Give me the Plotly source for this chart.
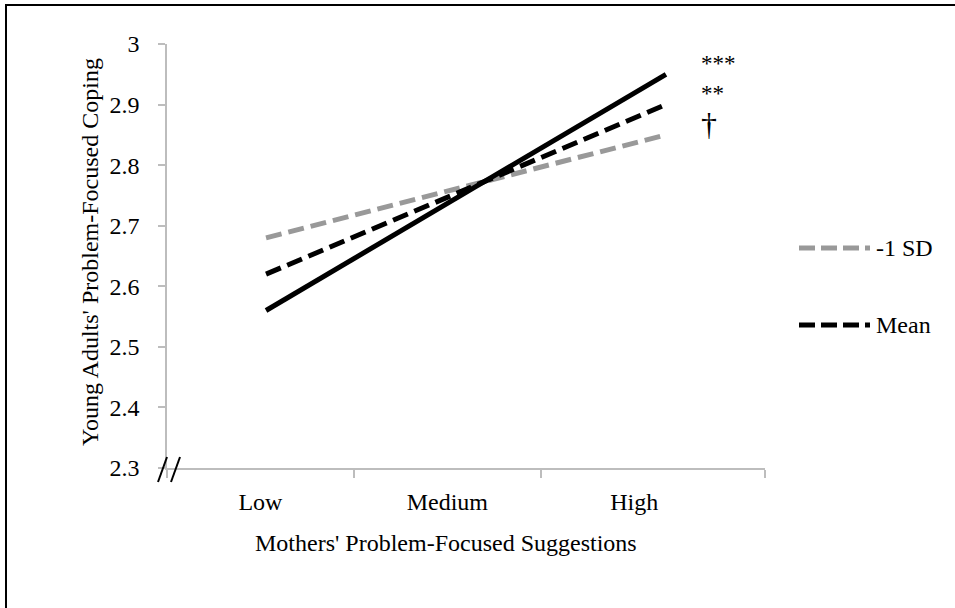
import plotly.graph_objects as go

# ---------------- data ----------------
categories = ["Low", "Medium", "High"]
category_pos = [0.5, 1.5, 2.5]
category_ticks = [0, 1, 2, 3.199]
line_x = [0.53, 2.67]                 # Low and High ends of each simple slope
series_names = ["-1 SD", "Mean", "+1 SD"]
minus_sd = [2.68, 2.85]
mean_vals = [2.62, 2.90]
plus_sd = [2.56, 2.95]
sig_labels = ["†", "**", "***"]       # for -1 SD, Mean, +1 SD
y_ticks = [2.3, 2.4, 2.5, 2.6, 2.7, 2.8, 2.9, 3.0]
y_ticklabels = ["2.3", "2.4", "2.5", "2.6", "2.7", "2.8", "2.9", "3"]
x_title = "Mothers' Problem-Focused Suggestions"
y_title = "Young Adults' Problem-Focused Coping"

# ---------------- layout constants ----------------
W, H = 955, 608
L, R, T, B = 167, 190, 44, 140
PW, PH = W - L - R, H - T - B
FONT = "Liberation Serif, Times New Roman, serif"
AXIS_GREY = "#bdbdbd"
GREY = "#999999"


def px(x):
    return (x - L) / PW


def py(y):
    return (H - B - y) / PH


styles = [
    dict(color=GREY, width=5, dash="16px,7px"),
    dict(color="black", width=5, dash="16px,7px"),
    dict(color="black", width=5, dash="solid"),
]
values = [minus_sd, mean_vals, plus_sd]

fig = go.Figure()
for name, vals, st in zip(series_names, values, styles):
    fig.add_trace(go.Scatter(x=line_x, y=vals, mode="lines", name=name,
                             line=st, showlegend=False, hoverinfo="skip"))

annotations = []
# significance markers next to line ends
for vals, lab in zip(values, sig_labels):
    annotations.append(dict(x=2.845, y=vals[-1] + 0.018, xref="x", yref="y",
                            text=lab, showarrow=False, xanchor="left",
                            yanchor="middle",
                            font=dict(family=FONT, size=32 if lab == "†" else 23,
                                      color="black")))

# axis titles
annotations.append(dict(x=px(446), y=py(543), xref="paper", yref="paper",
                        text=x_title, showarrow=False, xanchor="center",
                        yanchor="middle",
                        font=dict(family=FONT, size=24, color="black")))
annotations.append(dict(x=px(90), y=py(252), xref="paper", yref="paper",
                        text=y_title, showarrow=False, textangle=-90,
                        xanchor="center", yanchor="middle",
                        font=dict(family=FONT, size=24, color="black")))

shapes = []
# legend (only -1 SD and Mean visible in the original)
legend_rows = [248, 325]
for (name, st), yrow in zip(list(zip(series_names, styles))[:2], legend_rows):
    shapes.append(dict(type="line", xref="paper", yref="paper",
                       x0=px(799), x1=px(870), y0=py(yrow), y1=py(yrow),
                       line=dict(color=st["color"], width=5, dash="16px,6px")))
    annotations.append(dict(x=px(874), y=py(yrow), xref="paper", yref="paper",
                            text=name, showarrow=False, xanchor="left",
                            yanchor="middle",
                            font=dict(family=FONT, size=24, color="black")))

# axis break marks
for x0 in (158, 171):
    shapes.append(dict(type="line", xref="paper", yref="paper",
                       x0=px(x0), y0=py(482), x1=px(x0 + 9), y1=py(457),
                       line=dict(color="black", width=2)))

# outer frame (right and bottom edges fall outside the picture)
shapes.append(dict(type="rect", xref="paper", yref="paper",
                   x0=px(6), y0=py(H + 20), x1=px(W + 20), y1=py(5),
                   line=dict(color="black", width=2), fillcolor="rgba(0,0,0,0)",
                   layer="above"))

fig.update_layout(
    width=W, height=H, autosize=False,
    margin=dict(l=L, r=R, t=T, b=B, pad=0),
    paper_bgcolor="white", plot_bgcolor="white",
    font=dict(family=FONT, size=24, color="black"),
    showlegend=False,
    annotations=annotations,
    shapes=shapes,
    xaxis=dict(range=[0, 3.2], tickmode="array", tickvals=category_pos,
               ticktext=categories, ticks="", showline=True,
               linecolor=AXIS_GREY, linewidth=1.5, showgrid=False,
               zeroline=False, ticklabelstandoff=11,
               tickfont=dict(family=FONT, size=24, color="black"),
               minor=dict(tickmode="array", tickvals=category_ticks,
                          ticks="outside", ticklen=8, tickcolor=AXIS_GREY,
                          tickwidth=1.5, showgrid=False)),
    yaxis=dict(range=[2.3, 3.0], tickmode="array", tickvals=y_ticks,
               ticktext=y_ticklabels, ticks="outside", ticklen=7,
               tickcolor=AXIS_GREY, tickwidth=1.5, showline=True,
               linecolor=AXIS_GREY, linewidth=1.5, showgrid=False,
               zeroline=False, ticklabelstandoff=14,
               tickfont=dict(family=FONT, size=24, color="black")),
)

fig.write_html("out.html")
